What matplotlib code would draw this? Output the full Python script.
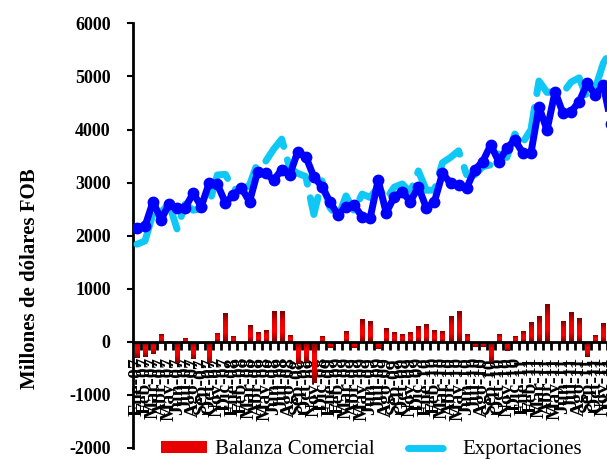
import numpy as np
import matplotlib.pyplot as plt
from matplotlib.colors import LinearSegmentedColormap
from matplotlib.patches import Patch
from matplotlib.lines import Line2D

# Meses en el eje x (etiquetas rotadas)
meses = ['Ene', 'Feb', 'Mar', 'Abr', 'May', 'Jun', 'Jul', 'Ago', 'Sep', 'Oct', 'Nov', 'Dic']
anios = ['07', '08', '09', '10', '11']
etiquetas = [m + '-' + a for a in anios for m in meses]

# Millones de dolares FOB
exportaciones = [1840, 1900, 2420, 2445, 2600, 2120, 2595, 2480, 2510, 2600,
                 3145, 3155, 2880, 2850, 2955, 3380, 3400, 3630, 3820, 3270,
                 3175, 3115, 2400, 3035, 2530, 2340, 2750, 2470, 2785, 2720,
                 2920, 2690, 2915, 2975, 2820, 3220, 2855, 2860, 3375, 3475,
                 3600, 3150, 3145, 3300, 3335, 3540, 3475, 3915, 3755, 4000,
                 4915, 4700, 4715, 4695, 4895, 4975, 4590, 4775, 5250, 5500]
importaciones = [2150, 2180, 2640, 2300, 2600, 2520, 2530, 2800, 2550, 3000,
                 2970, 2620, 2770, 2900, 2640, 3200, 3180, 3050, 3240, 3145,
                 3585, 3490, 3110, 2925, 2640, 2390, 2550, 2580, 2355, 2330,
                 3050, 2430, 2735, 2830, 2640, 2925, 2520, 2640, 3175, 2990,
                 2955, 2895, 3240, 3395, 3710, 3395, 3645, 3805, 3555, 3555,
                 4430, 3990, 4715, 4305, 4340, 4525, 4870, 4650, 4840, 4100]
balanza = [-310, -280, -220, 145, 10, -400, 65, -320, -40, -400,
           175, 535, 110, -50, 315, 180, 220, 580, 580, 125,
           -410, -375, -780, 110, -110, -50, 200, -110, 430, 390,
           -130, 260, 180, 145, 180, 295, 335, 220, 200, 485,
           580, 145, -95, -95, -375, 145, -170, 110, 200, 370,
           485, 710, 0, 390, 555, 450, -280, 125, 350, 400]

serif = ['Liberation Serif', 'DejaVu Serif']
plt.rcParams['font.family'] = serif
plt.rcParams['axes.unicode_minus'] = False

fig = plt.figure(figsize=(6.07, 4.59), dpi=100)
# el grafico original esta recortado a la derecha
ax = fig.add_axes([0.219, 0.024, 0.808, 0.925])

x = np.arange(len(etiquetas))

# barras con degradado rojo
barras = ax.bar(x, balanza, width=0.5, color='none', edgecolor='none', zorder=2)
rojo = LinearSegmentedColormap.from_list('rojo', ['#7a0000', '#ff0000', '#e80000', '#7a0000'])
grad = np.linspace(0, 1, 64).reshape(-1, 1)
for rect in barras:
    h = rect.get_height()
    if h == 0:
        continue
    x0, y0, w = rect.get_x(), rect.get_y(), rect.get_width()
    im = ax.imshow(grad, extent=[x0, x0 + w, y0 + h, y0], aspect='auto',
                   cmap=rojo, zorder=2, interpolation='bilinear')
    im.set_clip_path(rect)

ax.plot(x, exportaciones, color='#0fc8f5', lw=5, dashes=(5, 2),
        dash_capstyle='round', zorder=3)
ax.plot(x, importaciones, color='#0000ff', lw=5, marker='o', markersize=7.5,
        markeredgecolor='#0000ff', zorder=4)

ax.set_xlim(-0.5, len(x) + 0.5)
ax.set_ylim(-2000, 6000)
ax.set_yticks(np.arange(-2000, 6001, 1000))
ax.set_aspect('auto')

ax.spines['top'].set_visible(False)
ax.spines['right'].set_visible(False)
ax.spines['bottom'].set_position(('data', 0))
ax.spines['left'].set_linewidth(2)
ax.spines['bottom'].set_linewidth(2)

ax.set_xticks(x)
ax.set_xticklabels(etiquetas, rotation=90, fontsize=14, fontweight='bold')
ax.set_xticks(x[:-1] + 0.5, minor=True)
ax.tick_params(axis='x', which='major', length=0, pad=11)
ax.tick_params(axis='x', which='minor', length=6, width=2, direction='out')
ax.tick_params(axis='y', length=4, width=1.5, direction='out', labelsize=13, pad=12)
for t in ax.get_yticklabels():
    t.set_fontweight('bold')

ax.set_ylabel('Millones de dólares FOB', fontsize=15, fontweight='bold')
ax.yaxis.set_label_coords(-0.19, 0.40)

handles = [Patch(facecolor='#e80000', edgecolor='none'),
           Line2D([], [], color='#0fc8f5', lw=5, dashes=(5, 2), dash_capstyle='round'),
           Line2D([], [], color='#0000ff', lw=5)]
fig.legend(handles, ['Balanza Comercial', 'Exportaciones', 'Importaciones'],
           loc='center left', bbox_to_anchor=(0.265, 0.02), ncol=3, frameon=False,
           fontsize=15, handlelength=2.2, handleheight=0.5, handletextpad=0.4,
           columnspacing=1.6, borderpad=0, borderaxespad=0)

fig.savefig('out.png', dpi=100)
